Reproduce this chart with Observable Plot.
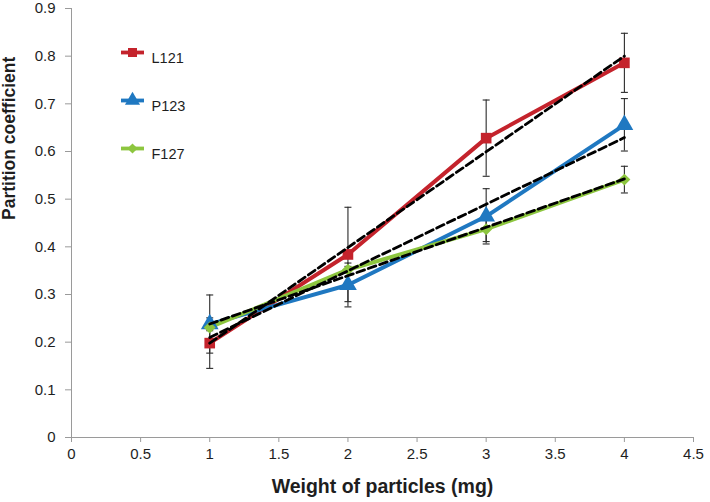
<!DOCTYPE html>
<html>
<head>
<meta charset="utf-8">
<script src="https://cdn.jsdelivr.net/npm/d3@7"></script>
<script src="https://cdn.jsdelivr.net/npm/@observablehq/plot@0.6"></script>
<style>
  html, body { margin: 0; padding: 0; background: #fff; }
  #chart { width: 710px; height: 502px; }
</style>
</head>
<body>
<div id="chart"></div>
<script>
// ---- data ----
const weights = [1, 2, 3, 4];
const seriesNames = ["L121", "P123", "F127"];
const L121 = [0.198, 0.384, 0.628, 0.786];
const L121err = [0.053, 0.099, 0.080, 0.062];
const P123 = [0.238, 0.320, 0.464, 0.656];
const P123err = [0.061, 0.046, 0.058, 0.055];
const F127 = [0.231, 0.352, 0.437, 0.541];
const F127err = [0.007, 0.007, 0.026, 0.028];
const xTicks = [0, 0.5, 1, 1.5, 2, 2.5, 3, 3.5, 4, 4.5];
const yTicks = [0, 0.1, 0.2, 0.3, 0.4, 0.5, 0.6, 0.7, 0.8, 0.9];
const xTitle = "Weight of particles (mg)";
const yTitle = "Partition coefficient";

const seriesColors = ["#C4232C", "#1F78C1", "#8DC63F"];
const seriesSymbols = ["square", "triangle", "diamond2"];
const seriesR = [6.0, 6.6, 5.4];

const values = {L121, P123, F127};
const errors = {L121: L121err, P123: P123err, F127: F127err};
const rows = seriesNames.flatMap(s => weights.map((w, i) => ({
  series: s, x: w, y: values[s][i],
  lo: values[s][i] - errors[s][i], hi: values[s][i] + errors[s][i]
})));

// custom symbols
const capSymbol = {draw(ctx, size) { const r = Math.sqrt(size / Math.PI); ctx.moveTo(-r, 0); ctx.lineTo(r, 0); }};
const legendLine = {draw(ctx, size) { const r = Math.sqrt(size / Math.PI); ctx.moveTo(-r, 0); ctx.lineTo(r, 0); }};

const axisGray = "#9a9a9a";
const textColor = "#1e1e1e";

const marks = [
  Plot.ruleX([0], {stroke: axisGray, strokeWidth: 1}),
  Plot.ruleY([0], {stroke: axisGray, strokeWidth: 1}),
  Plot.axisX({ticks: xTicks, tickFormat: d => String(d), tickSize: 5, tickPadding: 6, stroke: axisGray, fill: textColor, label: null, fontSize: 15}),
  Plot.axisY({ticks: yTicks, tickFormat: d => String(d), tickSize: 6, tickPadding: 10, stroke: axisGray, fill: textColor, label: null, fontSize: 15}),
  // error bars
  Plot.ruleX(rows, {x: "x", y1: "lo", y2: "hi", stroke: "#2a2a2a", strokeWidth: 1.1}),
  Plot.dot(rows, {x: "x", y: "lo", symbol: capSymbol, r: 3.5, stroke: "#2a2a2a", strokeWidth: 1.1, fill: "none"}),
  Plot.dot(rows, {x: "x", y: "hi", symbol: capSymbol, r: 3.5, stroke: "#2a2a2a", strokeWidth: 1.1, fill: "none"}),
  // series lines
  Plot.line(rows, {x: "x", y: "y", z: "series", stroke: "series", strokeWidth: 4}),
  // markers
  ...seriesNames.map((s, i) => Plot.dot(rows.filter(d => d.series === s), {
    x: "x", y: "y", symbol: seriesSymbols[i], r: seriesR[i], fill: seriesColors[i], stroke: "none"
  })),
  // trend lines
  Plot.linearRegressionY(rows, {x: "x", y: "y", z: "series", stroke: "#000", strokeWidth: 2.8, strokeDasharray: "8,4", ci: 0}),
  // legend
  ...seriesNames.flatMap((s, i) => [
    Plot.dot([s], {frameAnchor: "top-left", dx: 61, dy: 44 + i * 48, symbol: legendLine, r: 11.5, stroke: seriesColors[i], strokeWidth: 3.8, fill: "none"}),
    Plot.dot([s], {frameAnchor: "top-left", dx: 61, dy: 44 + i * 48, symbol: seriesSymbols[i], r: seriesR[i] * 0.85, fill: seriesColors[i], stroke: "none"}),
    Plot.text([s], {frameAnchor: "top-left", dx: 80, dy: 44 + i * 48, text: d => d, textAnchor: "start", fontSize: 14.5, fill: textColor})
  ]),
  // axis titles
  Plot.text([xTitle], {frameAnchor: "bottom", dy: 55, text: d => d, fontSize: 19.5, fontWeight: "bold", fill: textColor}),
  Plot.text([yTitle], {frameAnchor: "left", dx: -62, dy: -3, rotate: -90, text: d => d, fontSize: 17.5, fontWeight: "bold", fill: textColor})
];

const chart = Plot.plot({
  width: 710,
  height: 502,
  marginLeft: 71,
  marginRight: 17,
  marginTop: 8,
  marginBottom: 65,
  x: {domain: [0, 4.5]},
  y: {domain: [0, 0.9]},
  color: {domain: seriesNames, range: seriesColors},
  style: {fontFamily: "'Liberation Sans', Arial, sans-serif", fontSize: "14px", background: "#fff", overflow: "visible"},
  marks
});
document.getElementById("chart").appendChild(chart);
</script>
</body>
</html>
